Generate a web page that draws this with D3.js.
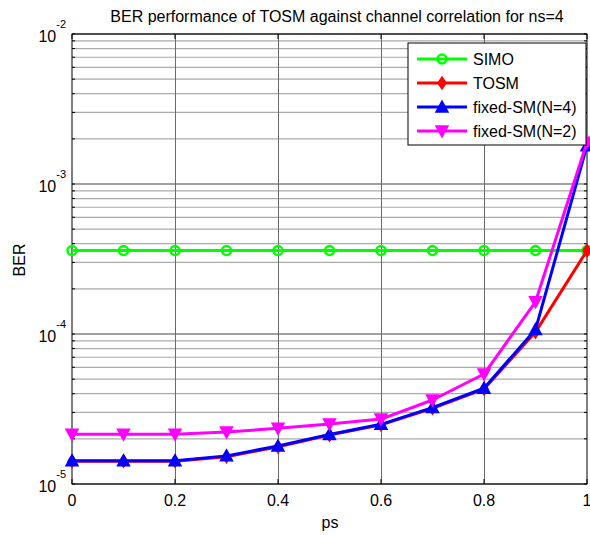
<!DOCTYPE html>
<html>
<head>
<meta charset="utf-8">
<script src="https://cdn.jsdelivr.net/npm/d3@7"></script>
<style>
  html, body { margin: 0; padding: 0; background: #fff; }
  svg { display: block; font-family: "Liberation Sans", Arial, sans-serif; }
</style>
</head>
<body>
<svg id="chart" width="590" height="535"></svg>
<script>
// Correlation values (ps) on the x axis
const ps = [0, 0.1, 0.2, 0.3, 0.4, 0.5, 0.6, 0.7, 0.8, 0.9, 1.0];

// BER per scheme
const simo  = [3.6e-4, 3.6e-4, 3.6e-4, 3.6e-4, 3.6e-4, 3.6e-4, 3.6e-4, 3.6e-4, 3.6e-4, 3.6e-4, 3.6e-4];
const tosm  = [1.42e-5, 1.42e-5, 1.42e-5, 1.52e-5, 1.77e-5, 2.12e-5, 2.48e-5, 3.2e-5, 4.3e-5, 1.03e-4, 3.6e-4];
const fixN4 = [1.43e-5, 1.43e-5, 1.43e-5, 1.54e-5, 1.79e-5, 2.14e-5, 2.5e-5, 3.23e-5, 4.35e-5, 1.07e-4, 1.8e-3];
const fixN2 = [2.15e-5, 2.15e-5, 2.15e-5, 2.22e-5, 2.35e-5, 2.51e-5, 2.71e-5, 3.63e-5, 5.41e-5, 1.64e-4, 1.9e-3];

const seriesNames = ["SIMO", "TOSM", "fixed-SM(N=4)", "fixed-SM(N=2)"];
const xTicks = [0, 0.2, 0.4, 0.6, 0.8, 1];
const yDecades = [-2, -3, -4, -5];

const titleText = "BER performance of TOSM against channel correlation for ns=4";
const xLabel = "ps";
const yLabel = "BER";

const svg = d3.select("#chart");
const pl = 72, pr = 587, pt = 34, pb = 484;

const x = d3.scaleLinear().domain([0, 1]).range([pl, pr]);
const y = d3.scaleLog().domain([1e-5, 1e-2]).range([pb, pt]);

// grid: minor log lines, decade lines, vertical lines
const gGrid = svg.append("g");
const minorVals = [];
for (let e = -5; e < -2; e++) for (let m = 2; m <= 9; m++) minorVals.push(m * Math.pow(10, e));
gGrid.selectAll("line.minor").data(minorVals).join("line")
  .attr("x1", pl).attr("x2", pr)
  .attr("y1", d => y(d)).attr("y2", d => y(d))
  .attr("stroke", "#aaaaaa").attr("stroke-width", 1.2);
gGrid.selectAll("line.major").data(yDecades.map(e => Math.pow(10, e))).join("line")
  .attr("x1", pl).attr("x2", pr)
  .attr("y1", d => y(d)).attr("y2", d => y(d))
  .attr("stroke", "#444444").attr("stroke-width", 1.2);
gGrid.selectAll("line.v").data(xTicks.slice(1, -1)).join("line")
  .attr("x1", d => Math.round(x(d)) + 0.5).attr("x2", d => Math.round(x(d)) + 0.5)
  .attr("y1", pt).attr("y2", pb)
  .attr("stroke", "#6a6a6a").attr("stroke-width", 1);

// axes box and inward ticks
const gAx = svg.append("g").attr("stroke", "#000").attr("stroke-width", 1);
gAx.append("rect").attr("x", pl).attr("y", pt)
  .attr("width", pr - pl).attr("height", pb - pt).attr("fill", "none");
xTicks.forEach(t => {
  gAx.append("line").attr("x1", x(t)).attr("x2", x(t)).attr("y1", pb).attr("y2", pb - 5);
  gAx.append("line").attr("x1", x(t)).attr("x2", x(t)).attr("y1", pt).attr("y2", pt + 5);
});
minorVals.concat(yDecades.map(e => Math.pow(10, e))).forEach(v => {
  gAx.append("line").attr("x1", pl).attr("x2", pl + 3).attr("y1", y(v)).attr("y2", y(v));
  gAx.append("line").attr("x1", pr).attr("x2", pr - 3).attr("y1", y(v)).attr("y2", y(v));
});

// tick labels
svg.append("g").selectAll("text").data(xTicks).join("text")
  .attr("x", d => x(d)).attr("y", pb + 22)
  .attr("text-anchor", "middle").attr("font-size", 16).attr("fill", "#000")
  .text(d => d3.format("~g")(d));

const yl = svg.append("g").selectAll("text").data(yDecades).join("text")
  .attr("x", 66).attr("y", d => y(Math.pow(10, d)) + 8)
  .attr("text-anchor", "end").attr("font-size", 16).attr("fill", "#000");
yl.append("tspan").text("10");
yl.append("tspan").attr("dy", -14).attr("font-size", 11).text(d => String(d));

// title and axis labels
svg.append("text").attr("x", 337).attr("y", 22).attr("text-anchor", "middle")
  .attr("font-size", 16).attr("fill", "#000").text(titleText);
svg.append("text").attr("x", 330).attr("y", 528).attr("text-anchor", "middle")
  .attr("font-size", 16).attr("fill", "#000").text(xLabel);
svg.append("text").attr("transform", "translate(25,260) rotate(-90)").attr("text-anchor", "middle")
  .attr("font-size", 16).attr("fill", "#000").text(yLabel);

// series
const colors = ["#00ff00", "#ff0000", "#0000ff", "#ff00ff"];
const values = [simo, tosm, fixN4, fixN2];
const line = d3.line().x(d => x(d[0])).y(d => y(d[1]));

function marker(g, kind, cx, cy, color) {
  if (kind === 0) {
    g.append("circle").attr("cx", cx).attr("cy", cy).attr("r", 4.5)
      .attr("fill", "none").attr("stroke", color).attr("stroke-width", 2.5);
  } else if (kind === 1) {
    g.append("path").attr("d", `M${cx},${cy - 6}L${cx + 4},${cy}L${cx},${cy + 6}L${cx - 4},${cy}Z`)
      .attr("fill", color).attr("stroke", color).attr("stroke-width", 1.5);
  } else if (kind === 2) {
    g.append("path").attr("d", `M${cx},${cy - 6}L${cx + 6},${cy + 5}L${cx - 6},${cy + 5}Z`)
      .attr("fill", color).attr("stroke", color).attr("stroke-width", 1.5);
  } else {
    g.append("path").attr("d", `M${cx},${cy + 6}L${cx + 6},${cy - 5}L${cx - 6},${cy - 5}Z`)
      .attr("fill", color).attr("stroke", color).attr("stroke-width", 1.5);
  }
}

values.forEach((vals, i) => {
  const pts = ps.map((p, k) => [p, vals[k]]);
  const g = svg.append("g");
  g.append("path").attr("d", line(pts)).attr("fill", "none")
    .attr("stroke", colors[i]).attr("stroke-width", 3).attr("stroke-linejoin", "round");
  pts.forEach(d => marker(g, i, x(d[0]), y(d[1]), colors[i]));
});

// legend
const lg = svg.append("g");
lg.append("rect").attr("x", 408).attr("y", 43).attr("width", 178).attr("height", 102)
  .attr("fill", "#fff").attr("stroke", "#000").attr("stroke-width", 1);
const rowY = [59, 83, 107, 131];
seriesNames.forEach((name, i) => {
  lg.append("line").attr("x1", 417).attr("x2", 467).attr("y1", rowY[i]).attr("y2", rowY[i])
    .attr("stroke", colors[i]).attr("stroke-width", 3);
  marker(lg, i, 442, rowY[i], colors[i]);
  lg.append("text").attr("x", 473).attr("y", rowY[i] + 6).attr("font-size", 16)
    .attr("fill", "#000").text(name);
});
</script>
</body>
</html>
